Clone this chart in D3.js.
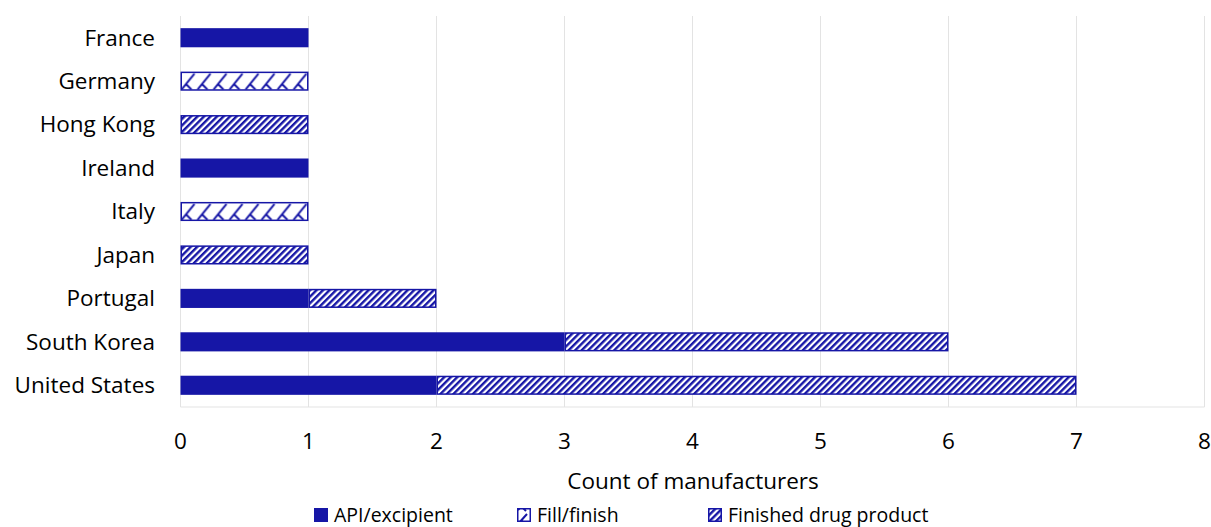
<!DOCTYPE html>
<html><head><meta charset="utf-8">
<script src="https://cdn.jsdelivr.net/npm/d3@7"></script>
<style>body{margin:0;background:#fff}text{font-family:"Open Sans",Lato,sans-serif;fill:#000}</style>
</head><body>
<svg id="c" width="1211" height="527"></svg>
<script>
const categories = ["France","Germany","Hong Kong","Ireland","Italy","Japan","Portugal","South Korea","United States"];
const seriesNames = ["API/excipient","Fill/finish","Finished drug product"];
const apiValues = [1,0,0,1,0,0,1,3,2];
const fillValues = [0,1,0,0,1,0,0,0,0];
const finishedValues = [0,0,1,0,0,1,1,3,5];
const xTicks = [0,1,2,3,4,5,6,7,8];
const axisTitle = "Count of manufacturers";

const color = "#1616A6";
const FS = 22.5, LFS = 19.5;
const svg = d3.select("#c");
const defs = svg.append("defs");
// Finished: wide upward diagonal stripes
const p1 = defs.append("pattern").attr("id","pFin").attr("patternUnits","userSpaceOnUse")
  .attr("width",4.6).attr("height",4.6).attr("patternTransform","rotate(45)");
p1.append("rect").attr("width",4.6).attr("height",4.6).attr("fill","#fff");
p1.append("rect").attr("width",2.4).attr("height",4.6).attr("fill",color);

const x = d3.scaleLinear().domain([0,8]).range([180.5,1204.5]);
const y = d3.scaleBand().domain(categories).range([16,407]).paddingInner(0.56).paddingOuter(0.28);

// Fill/finish: zigzag trellis, one pattern per bar aligned to bar top
categories.forEach((c,i)=>{
  const p2 = defs.append("pattern").attr("id","pFill"+i).attr("patternUnits","userSpaceOnUse")
    .attr("width",16).attr("height",y.bandwidth()).attr("x",x(0)).attr("y",y(c));
  p2.append("rect").attr("width",16).attr("height",y.bandwidth()).attr("fill","#fff");
  p2.append("path").attr("d","M1,18 L14,2 M5,12 L11,18").attr("stroke",color).attr("stroke-width",2).attr("fill","none");
});

// grid
svg.append("g").selectAll("line").data(xTicks).join("line")
  .attr("x1",d=>x(d)).attr("x2",d=>x(d)).attr("y1",16).attr("y2",407)
  .attr("stroke","#e3e3e3").attr("stroke-width",1);
svg.append("line").attr("x1",x(0)).attr("x2",x(8)).attr("y1",407).attr("y2",407).attr("stroke","#e3e3e3");

const rows = categories.map((c,i)=>({c,i, vals:[apiValues[i],fillValues[i],finishedValues[i]]}));
const segs = [];
rows.forEach(r=>{let acc=0; r.vals.forEach((v,k)=>{ if(v>0){segs.push({c:r.c,i:r.i,x0:acc,x1:acc+v,k}); } acc+=v;});});
const fillFor = d => d.k===0 ? color : d.k===1 ? `url(#pFill${d.i})` : "url(#pFin)";
svg.append("g").selectAll("rect").data(segs).join("rect")
  .attr("x",d=>x(d.x0)+(d.k?0.75:0)).attr("width",d=>x(d.x1)-x(d.x0)-(d.k?1.5:0))
  .attr("y",d=>y(d.c)+(d.k?0.75:0)).attr("height",d=>y.bandwidth()-(d.k?1.5:0))
  .attr("fill",fillFor).attr("stroke",d=>d.k?color:"none").attr("stroke-width",1.5);

// y labels
svg.append("g").selectAll("text").data(categories).join("text")
  .attr("x",155).attr("y",d=>y(d)+y.bandwidth()/2).attr("dy","0.35em")
  .attr("text-anchor","end").attr("font-size",FS).text(d=>d);
// x tick labels
svg.append("g").selectAll("text").data(xTicks).join("text")
  .attr("x",d=>x(d)).attr("y",441).attr("dy","0.35em").attr("text-anchor","middle")
  .attr("font-size",FS).text(d=>d);
svg.append("text").attr("x",693).attr("y",481).attr("dy","0.35em").attr("text-anchor","middle")
  .attr("font-size",FS).text(axisTitle);

// legend
const legX = [314,517,708];
const lg = svg.append("g").selectAll("g").data(seriesNames).join("g")
  .attr("transform",(d,i)=>`translate(${legX[i]},508)`);
defs.append("pattern").attr("id","pFillL").attr("patternUnits","userSpaceOnUse").attr("width",14).attr("height",14).attr("x",517).attr("y",508)
  .call(p=>{p.append("rect").attr("width",14).attr("height",14).attr("fill","#fff");
    p.append("path").attr("d","M2,12 L11,2 M5,8 L10,13").attr("stroke",color).attr("stroke-width",2).attr("fill","none");});
const legFill = [color,"url(#pFillL)","url(#pFin)"];
lg.append("rect").attr("x",0.75).attr("y",0.75).attr("width",12.5).attr("height",12.5)
  .attr("fill",(d,i)=>legFill[i]).attr("stroke",color).attr("stroke-width",1.5);
lg.append("text").attr("x",20).attr("y",7).attr("dy","0.35em").attr("font-size",LFS).text(d=>d);
</script>
</body></html>
